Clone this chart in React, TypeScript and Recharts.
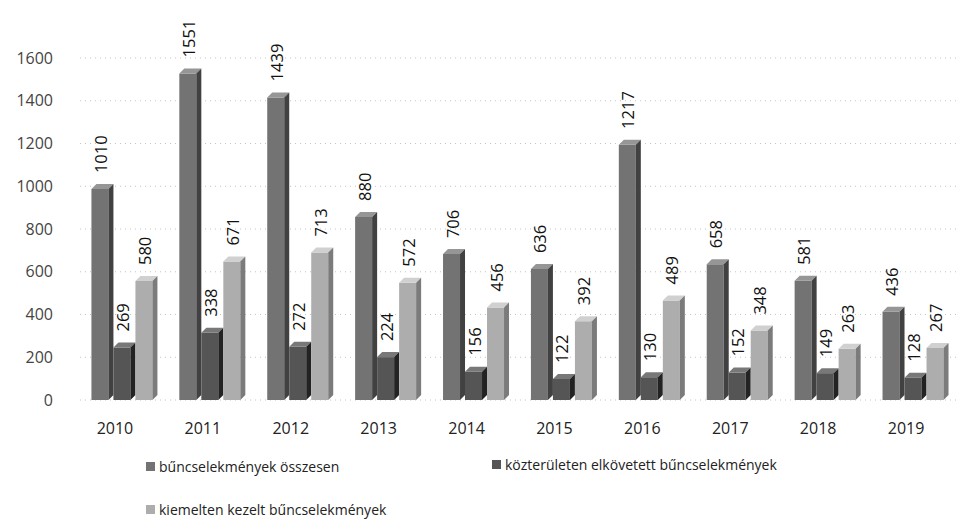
import { BarChart, Bar, XAxis, YAxis, CartesianGrid, LabelList } from 'recharts';

const years = ['2010', '2011', '2012', '2013', '2014', '2015', '2016', '2017', '2018', '2019'];
const osszesen = [1010, 1551, 1439, 880, 706, 636, 1217, 658, 581, 436];
const kozteruleten = [269, 338, 272, 224, 156, 122, 130, 152, 149, 128];
const kiemelten = [580, 671, 713, 572, 456, 392, 489, 348, 263, 267];
const yTicks = [0, 200, 400, 600, 800, 1000, 1200, 1400, 1600];

const seriesNames = {
  osszesen: 'bűncselekmények összesen',
  kozteruleten: 'közterületen elkövetett bűncselekmények',
  kiemelten: 'kiemelten kezelt bűncselekmények',
};

const colors = {
  osszesen: '#737373',
  kozteruleten: '#555555',
  kiemelten: '#adadad',
};

const data = years.map((year, i) => ({
  year,
  osszesen: osszesen[i],
  kozteruleten: kozteruleten[i],
  kiemelten: kiemelten[i],
}));

const FONT = '"Open Sans", "Liberation Sans", sans-serif';

function shade(hex: string, amt: number) {
  const n = parseInt(hex.slice(1), 16);
  const c = (v: number) => Math.max(0, Math.min(255, Math.round(v + amt)));
  const r = c((n >> 16) & 255);
  const g = c((n >> 8) & 255);
  const b = c(n & 255);
  return `rgb(${r},${g},${b})`;
}

// pseudo 3D column: front face, top bevel and a darker right side
const Bar3D = (props: any) => {
  const { x, y, width, height, fill } = props;
  if (!height || height <= 0) return null;
  const d = 5;
  const front = `${x},${y + d} ${x + width - d},${y + d} ${x + width - d},${y + height} ${x},${y + height}`;
  const top = `${x},${y + d} ${x + d},${y} ${x + width},${y} ${x + width - d},${y + d}`;
  const side = `${x + width - d},${y + d} ${x + width},${y} ${x + width},${y + height - d} ${x + width - d},${y + height}`;
  return (
    <g>
      <polygon points={front} fill={fill} />
      <polygon points={top} fill={shade(fill, 35)} />
      <polygon points={side} fill={shade(fill, -50)} />
    </g>
  );
};

const VerticalLabel = (props: any) => {
  const { x, y, width, value } = props;
  const cx = x + width / 2 - 2;
  const ty = y - 11;
  return (
    <text
      x={cx}
      y={ty}
      transform={`rotate(-90 ${cx} ${ty})`}
      textAnchor="start"
      dominantBaseline="central"
      fontSize={16.5}
      fontFamily={FONT}
      fill="#111"
    >
      {value}
    </text>
  );
};

const LegendItem = ({ color, label, left, top }: { color: string; label: string; left: number; top: number }) => (
  <div style={{ position: 'absolute', left, top, display: 'flex', alignItems: 'center', whiteSpace: 'nowrap' }}>
    <span style={{ width: 9, height: 9, background: color, display: 'inline-block', marginRight: 4 }} />
    <span style={{ fontFamily: FONT, fontSize: 14, color: '#222' }}>{label}</span>
  </div>
);

export default function App() {
  return (
    <div style={{ position: 'absolute', left: 0, top: 0, width: 959, height: 527, background: '#fff' }}>
      <BarChart
        width={959}
        height={527}
        data={data}
        margin={{ top: 58, right: 0, left: 0, bottom: 97 }}
        barGap={0}
        barCategoryGap="13%"
      >
        <CartesianGrid vertical={false} stroke="#c4c4c4" strokeDasharray="1 4" />
        <XAxis
          dataKey="year"
          height={30}
          axisLine={false}
          tickLine={false}
          tickSize={0}
          tickMargin={23}
          tick={{ fontSize: 16, fontFamily: FONT, fill: '#222', dx: -9 }}
          interval={0}
        />
        <YAxis
          width={80}
          domain={[0, 1600]}
          ticks={yTicks}
          axisLine={false}
          tickLine={false}
          tickSize={0}
          tickMargin={27}
          tick={{ fontSize: 16, fontFamily: FONT, fill: '#444' }}
        />
        <Bar dataKey="osszesen" name={seriesNames.osszesen} fill={colors.osszesen} shape={Bar3D} isAnimationActive={false}>
          <LabelList dataKey="osszesen" content={VerticalLabel} />
        </Bar>
        <Bar dataKey="kozteruleten" name={seriesNames.kozteruleten} fill={colors.kozteruleten} shape={Bar3D} isAnimationActive={false}>
          <LabelList dataKey="kozteruleten" content={VerticalLabel} />
        </Bar>
        <Bar dataKey="kiemelten" name={seriesNames.kiemelten} fill={colors.kiemelten} shape={Bar3D} isAnimationActive={false}>
          <LabelList dataKey="kiemelten" content={VerticalLabel} />
        </Bar>
      </BarChart>
      <LegendItem color={colors.osszesen} label={seriesNames.osszesen} left={146} top={457} />
      <LegendItem color={colors.kozteruleten} label={seriesNames.kozteruleten} left={492} top={455} />
      <LegendItem color={colors.kiemelten} label={seriesNames.kiemelten} left={146} top={500} />
    </div>
  );
}
